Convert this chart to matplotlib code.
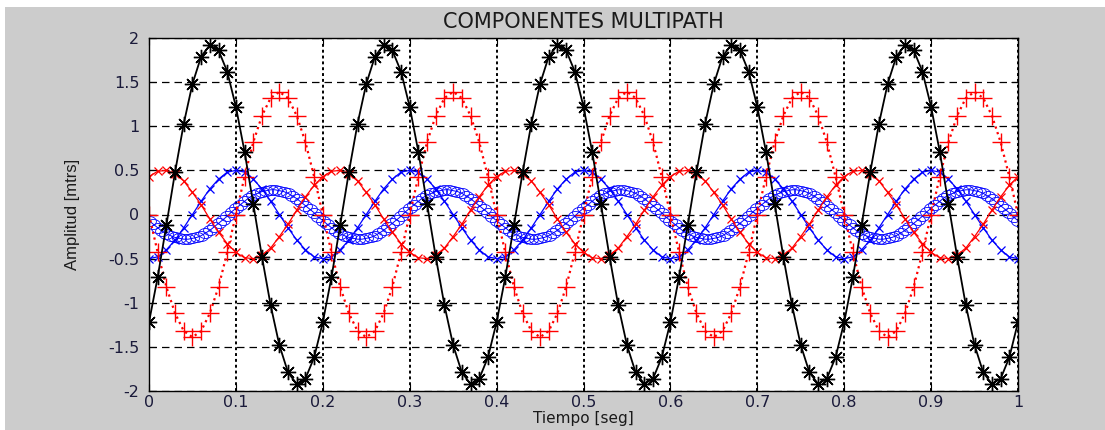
import numpy as np
import matplotlib.pyplot as plt
from matplotlib.patches import Rectangle

plt.rcParams['axes.unicode_minus'] = False

# paso de muestreo de las componentes
paso = 0.01        # negro, rojo, azul (x)
paso_fino = 0.005  # azul (o)

# componente directa (negro, *)
negro = [
    -1.22, -0.71, -0.12, 0.48, 1.03, 1.48, 1.79, 1.92, 1.86, 1.62, 1.22, 0.71, 0.12, -0.48, -1.03, -1.48, -1.79, -1.92, -1.86, -1.62,
    -1.22, -0.71, -0.12, 0.48, 1.03, 1.48, 1.79, 1.92, 1.86, 1.62, 1.22, 0.71, 0.12, -0.48, -1.03, -1.48, -1.79, -1.92, -1.86, -1.62,
    -1.22, -0.71, -0.12, 0.48, 1.03, 1.48, 1.79, 1.92, 1.86, 1.62, 1.22, 0.71, 0.12, -0.48, -1.03, -1.48, -1.79, -1.92, -1.86, -1.62,
    -1.22, -0.71, -0.12, 0.48, 1.03, 1.48, 1.79, 1.92, 1.86, 1.62, 1.22, 0.71, 0.12, -0.48, -1.03, -1.48, -1.79, -1.92, -1.86, -1.62,
    -1.22, -0.71, -0.12, 0.48, 1.03, 1.48, 1.79, 1.92, 1.86, 1.62, 1.22, 0.71, 0.12, -0.48, -1.03, -1.48, -1.79, -1.92, -1.86, -1.62,
    -1.22,
]

# primera reflexion (rojo punteado, +)
rojo_punteado = [
    0.00, -0.43, -0.82, -1.12, -1.32, -1.39, -1.32, -1.12, -0.82, -0.43, 0.00, 0.43, 0.82, 1.12, 1.32, 1.39, 1.32, 1.12, 0.82, 0.43,
    0.00, -0.43, -0.82, -1.12, -1.32, -1.39, -1.32, -1.12, -0.82, -0.43, 0.00, 0.43, 0.82, 1.12, 1.32, 1.39, 1.32, 1.12, 0.82, 0.43,
    0.00, -0.43, -0.82, -1.12, -1.32, -1.39, -1.32, -1.12, -0.82, -0.43, 0.00, 0.43, 0.82, 1.12, 1.32, 1.39, 1.32, 1.12, 0.82, 0.43,
    0.00, -0.43, -0.82, -1.12, -1.32, -1.39, -1.32, -1.12, -0.82, -0.43, 0.00, 0.43, 0.82, 1.12, 1.32, 1.39, 1.32, 1.12, 0.82, 0.43,
    0.00, -0.43, -0.82, -1.12, -1.32, -1.39, -1.32, -1.12, -0.82, -0.43, 0.00, 0.43, 0.82, 1.12, 1.32, 1.39, 1.32, 1.12, 0.82, 0.43,
    0.00,
]

# segunda reflexion (rojo, x)
rojo_x = [
    0.43, 0.49, 0.50, 0.46, 0.38, 0.25, 0.11, -0.05, -0.20, -0.33, -0.43, -0.49, -0.50, -0.46, -0.38, -0.25, -0.11, 0.05, 0.20, 0.33,
    0.43, 0.49, 0.50, 0.46, 0.38, 0.25, 0.11, -0.05, -0.20, -0.33, -0.43, -0.49, -0.50, -0.46, -0.38, -0.25, -0.11, 0.05, 0.20, 0.33,
    0.43, 0.49, 0.50, 0.46, 0.38, 0.25, 0.11, -0.05, -0.20, -0.33, -0.43, -0.49, -0.50, -0.46, -0.38, -0.25, -0.11, 0.05, 0.20, 0.33,
    0.43, 0.49, 0.50, 0.46, 0.38, 0.25, 0.11, -0.05, -0.20, -0.33, -0.43, -0.49, -0.50, -0.46, -0.38, -0.25, -0.11, 0.05, 0.20, 0.33,
    0.43, 0.49, 0.50, 0.46, 0.38, 0.25, 0.11, -0.05, -0.20, -0.33, -0.43, -0.49, -0.50, -0.46, -0.38, -0.25, -0.11, 0.05, 0.20, 0.33,
    0.43,
]

# tercera reflexion (azul, x)
azul_x = [
    -0.50, -0.48, -0.40, -0.29, -0.15, 0.00, 0.15, 0.29, 0.40, 0.48, 0.50, 0.48, 0.40, 0.29, 0.15, 0.00, -0.15, -0.29, -0.40, -0.48,
    -0.50, -0.48, -0.40, -0.29, -0.15, 0.00, 0.15, 0.29, 0.40, 0.48, 0.50, 0.48, 0.40, 0.29, 0.15, 0.00, -0.15, -0.29, -0.40, -0.48,
    -0.50, -0.48, -0.40, -0.29, -0.15, 0.00, 0.15, 0.29, 0.40, 0.48, 0.50, 0.48, 0.40, 0.29, 0.15, 0.00, -0.15, -0.29, -0.40, -0.48,
    -0.50, -0.48, -0.40, -0.29, -0.15, 0.00, 0.15, 0.29, 0.40, 0.48, 0.50, 0.48, 0.40, 0.29, 0.15, 0.00, -0.15, -0.29, -0.40, -0.48,
    -0.50, -0.48, -0.40, -0.29, -0.15, 0.00, 0.15, 0.29, 0.40, 0.48, 0.50, 0.48, 0.40, 0.29, 0.15, 0.00, -0.15, -0.29, -0.40, -0.48,
    -0.50,
]

# cuarta reflexion (azul, o) - muestreo mas fino
azul_o = [
    -0.07, -0.11, -0.15, -0.19, -0.22, -0.24, -0.26, -0.27, -0.28, -0.28, -0.27, -0.26, -0.24, -0.21, -0.18, -0.14, -0.10, -0.06, -0.02, 0.03,
    0.07, 0.11, 0.15, 0.19, 0.22, 0.24, 0.26, 0.27, 0.28, 0.28, 0.27, 0.26, 0.24, 0.21, 0.18, 0.14, 0.10, 0.06, 0.02, -0.03,
    -0.07, -0.11, -0.15, -0.19, -0.22, -0.24, -0.26, -0.27, -0.28, -0.28, -0.27, -0.26, -0.24, -0.21, -0.18, -0.14, -0.10, -0.06, -0.02, 0.03,
    0.07, 0.11, 0.15, 0.19, 0.22, 0.24, 0.26, 0.27, 0.28, 0.28, 0.27, 0.26, 0.24, 0.21, 0.18, 0.14, 0.10, 0.06, 0.02, -0.03,
    -0.07, -0.11, -0.15, -0.19, -0.22, -0.24, -0.26, -0.27, -0.28, -0.28, -0.27, -0.26, -0.24, -0.21, -0.18, -0.14, -0.10, -0.06, -0.02, 0.03,
    0.07, 0.11, 0.15, 0.19, 0.22, 0.24, 0.26, 0.27, 0.28, 0.28, 0.27, 0.26, 0.24, 0.21, 0.18, 0.14, 0.10, 0.06, 0.02, -0.03,
    -0.07, -0.11, -0.15, -0.19, -0.22, -0.24, -0.26, -0.27, -0.28, -0.28, -0.27, -0.26, -0.24, -0.21, -0.18, -0.14, -0.10, -0.06, -0.02, 0.03,
    0.07, 0.11, 0.15, 0.19, 0.22, 0.24, 0.26, 0.27, 0.28, 0.28, 0.27, 0.26, 0.24, 0.21, 0.18, 0.14, 0.10, 0.06, 0.02, -0.03,
    -0.07, -0.11, -0.15, -0.19, -0.22, -0.24, -0.26, -0.27, -0.28, -0.28, -0.27, -0.26, -0.24, -0.21, -0.18, -0.14, -0.10, -0.06, -0.02, 0.03,
    0.07, 0.11, 0.15, 0.19, 0.22, 0.24, 0.26, 0.27, 0.28, 0.28, 0.27, 0.26, 0.24, 0.21, 0.18, 0.14, 0.10, 0.06, 0.02, -0.03,
    -0.07,
]

x_ticks = [0, 0.1, 0.2, 0.3, 0.4, 0.5, 0.6, 0.7, 0.8, 0.9, 1]
x_labels = ['0', '0.1', '0.2', '0.3', '0.4', '0.5', '0.6', '0.7', '0.8', '0.9', '1']
y_ticks = [-2, -1.5, -1, -0.5, 0, 0.5, 1, 1.5, 2]
y_labels = ['-2', '-1.5', '-1', '-0.5', '0', '0.5', '1', '1.5', '2']

t = np.arange(len(negro)) * paso
t_fino = np.arange(len(azul_o)) * paso_fino

W, H = 1105, 430
fig = plt.figure(figsize=(W / 100, H / 100), dpi=100)
fig.patch.set_facecolor('white')
# fondo gris estilo matlab
fig.add_artist(Rectangle((5 / W, 0), 1, 1 - 7 / H, transform=fig.transFigure,
                         facecolor='#cccccc', edgecolor='none', zorder=-5))

ax = fig.add_axes([149 / W, 1 - 391 / H, (1018 - 149) / W, (391 - 38) / H])
ax.set_facecolor('white')

# marcador circular algo achatado
ang = np.linspace(0, 2 * np.pi, 25)
elipse = np.column_stack([np.cos(ang), 0.72 * np.sin(ang)])

ax.plot(t_fino, azul_o, '-', color='blue', lw=0.7, marker=elipse, ms=10,
        mfc='none', mec='blue', mew=0.6)
ax.plot(t, azul_x, '-', color='blue', lw=0.9, marker='x', ms=6, mew=0.9)
ax.plot(t, rojo_x, '-', color='red', lw=0.9, marker='x', ms=6, mew=0.9)
ax.plot(t, rojo_punteado, ':', color='red', lw=1.6, marker='+', ms=13, mew=1.0)
# asterisco estilo matlab (8 brazos)
ax.plot(t, negro, '-', color='black', lw=1.3, marker=(8, 2, 0), ms=11, mew=1.0)

ax.set_xlim(0, 1)
ax.set_ylim(-2, 2)
ax.set_xticks(x_ticks)
ax.set_xticklabels(x_labels)
ax.set_yticks(y_ticks)
ax.set_yticklabels(y_labels)

ax.yaxis.grid(True, linestyle=(0, (6, 4)), color='black', lw=0.9)
ax.xaxis.grid(True, linestyle=(0, (1.5, 1.5)), color='black', lw=1.4)

ax.tick_params(direction='in', length=5, top=True, right=True, labelsize=11.5,
               labelcolor='#1a1a3a', width=0.8)
ax.tick_params(axis='y', pad=7)
ax.tick_params(axis='x', pad=3)
for lab in ax.get_xticklabels() + ax.get_yticklabels():
    lab.set_family('DejaVu Sans')
for s in ax.spines.values():
    s.set_linewidth(1.0)

ax.set_title('COMPONENTES MULTIPATH', fontsize=15, family='DejaVu Sans',
             pad=7, color='#1a1a1a')
ax.set_xlabel('Tiempo [seg]', fontsize=11, family='DejaVu Sans', color='#1a1a1a')
ax.xaxis.set_label_coords(0.5, -0.058)
ax.set_ylabel('Amplitud [mtrs]', fontsize=12, family=['Liberation Sans', 'DejaVu Sans'],
              color='#1a1a1a')
ax.yaxis.set_label_coords(-0.079, 0.5)

fig.savefig('out.png', dpi=100, facecolor=fig.get_facecolor())
